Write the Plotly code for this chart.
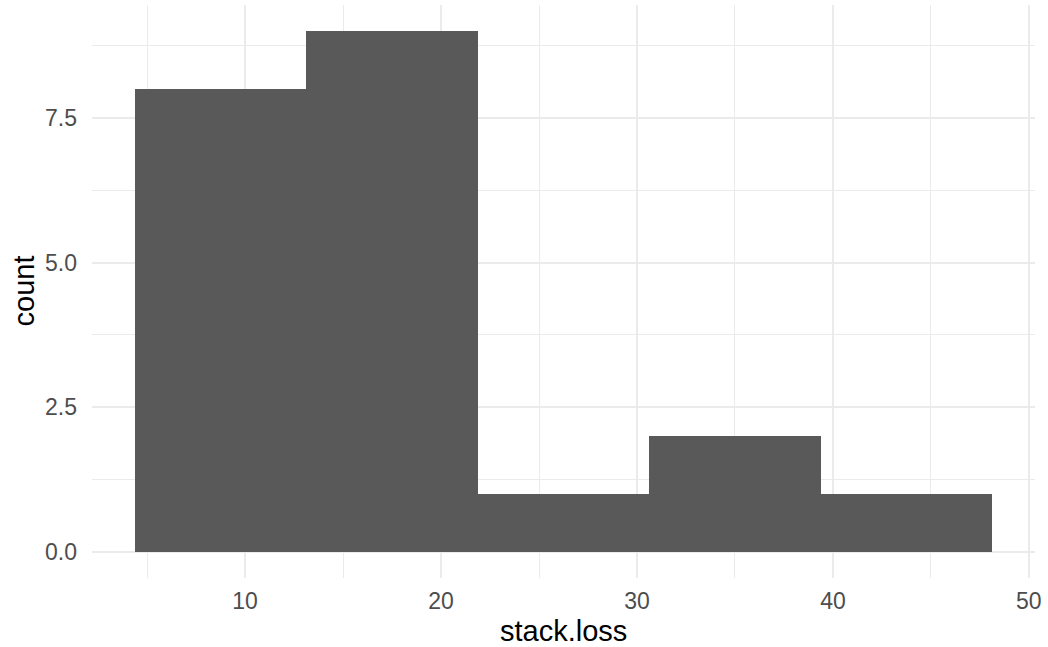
import plotly.graph_objects as go

bin_edges = [4.375, 13.125, 21.875, 30.625, 39.375, 48.125]
counts = [8, 9, 1, 2, 1]
x_ticks = [10, 20, 30, 40, 50]
y_ticks = [0, 2.5, 5.0, 7.5]
y_tick_labels = ["0.0", "2.5", "5.0", "7.5"]

centers = [(a + b) / 2 for a, b in zip(bin_edges[:-1], bin_edges[1:])]
widths = [b - a for a, b in zip(bin_edges[:-1], bin_edges[1:])]

fig = go.Figure(go.Bar(x=centers, y=counts, width=widths,
                       marker=dict(color="#595959", line=dict(width=0))))

span = bin_edges[-1] - bin_edges[0]
xr = [bin_edges[0] - 0.05 * span, bin_edges[-1] + 0.05 * span]
ymax = max(counts)
yr = [-0.05 * ymax, ymax * 1.05]

FONT = "Liberation Sans, Arial, sans-serif"
fig.update_layout(
    width=1048, height=647,
    margin=dict(l=92, r=13, t=5, b=69),
    plot_bgcolor="white", paper_bgcolor="white",
    font=dict(family=FONT),
    showlegend=False, bargap=0,
    xaxis=dict(range=xr, tickvals=x_ticks, showgrid=True, gridcolor="#EBEBEB", gridwidth=2,
               zeroline=False, showline=False, ticks="", automargin=False,
               ticklabelstandoff=7,
               tickfont=dict(size=23, color="#4D4D4D"),
               minor=dict(tick0=5, dtick=10, showgrid=True, gridcolor="#EBEBEB", gridwidth=1)),
    yaxis=dict(range=yr, tickvals=y_ticks, ticktext=y_tick_labels, showgrid=True,
               gridcolor="#EBEBEB", gridwidth=2,
               zeroline=False, showline=False, ticks="", automargin=False,
               ticklabelstandoff=14,
               tickfont=dict(size=23, color="#4D4D4D"),
               minor=dict(tick0=1.25, dtick=2.5, showgrid=True, gridcolor="#EBEBEB", gridwidth=1)),
    annotations=[
        dict(text="stack.loss", xref="paper", yref="paper", x=0.5, y=0, yshift=-71,
             xanchor="center", yanchor="bottom", showarrow=False,
             font=dict(size=29, color="black", family=FONT)),
        dict(text="count", xref="paper", yref="paper", x=0, xshift=-69, y=0.5,
             xanchor="center", yanchor="middle", textangle=-90, showarrow=False,
             font=dict(size=29, color="black", family=FONT)),
    ],
)
fig.write_html("out.html", config={"displayModeBar": False},
               post_script="document.body.style.margin='0';document.body.style.padding='0';")
